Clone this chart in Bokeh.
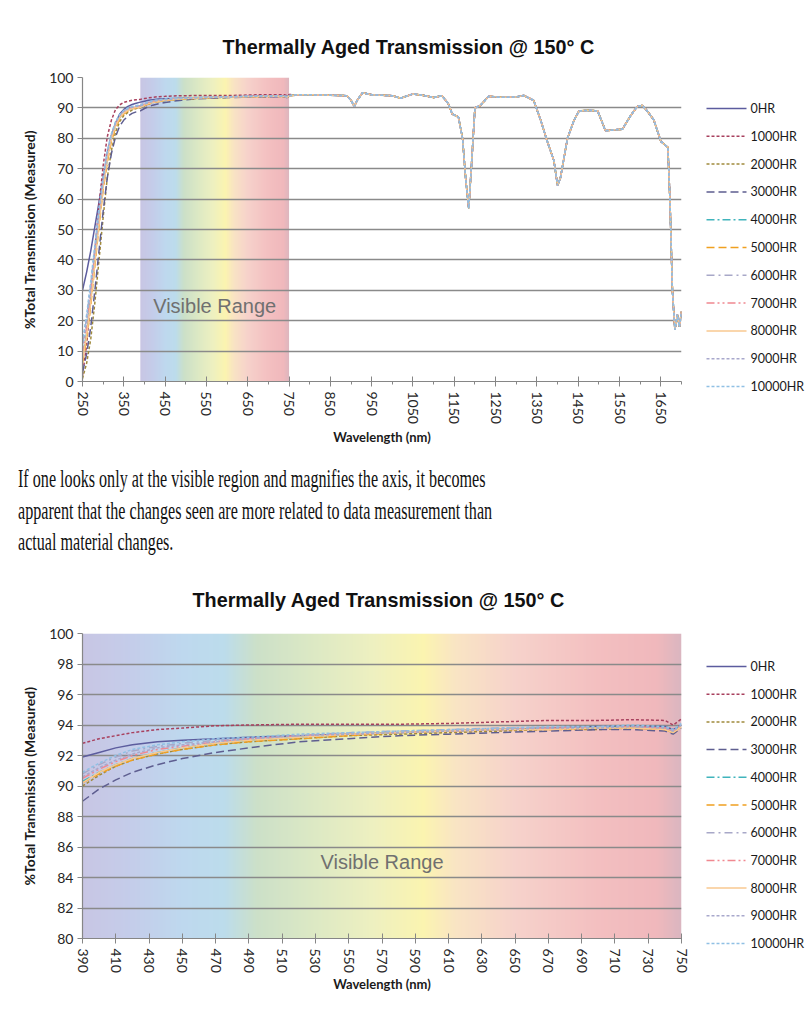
import math
import numpy as np
from bokeh.plotting import figure
from bokeh.models import Label, FixedTicker, Div, Range1d
from bokeh.core.properties import value
from bokeh.layouts import column, row
from bokeh.embed import file_html
from bokeh.resources import INLINE

# ---------------- data ----------------
series_names = ["0HR", "1000HR", "2000HR", "3000HR", "4000HR", "5000HR",
                "6000HR", "7000HR", "8000HR", "9000HR", "10000HR"]
series_colors = ["#5c5c9e", "#a8405e", "#a08a3c", "#5e5e90", "#40b4bc", "#f0a020",
                 "#a8a8c8", "#f08890", "#f8c890", "#a8a8cc", "#90c0e4"]
series_dashes = ["solid", "3 2", "3 2", "8 4", "8 3 2 3", "8 4",
                 "8 4 2 4", "8 3 2 3 2 3", "solid", "3 2", "3 2"]

# UV rise region (top chart only), nm
rise_wl = [250, 260, 270, 280, 290, 300, 310, 320, 330, 340, 350, 360, 370, 380]
rise_0HR = [30, 36, 43, 51, 59, 67, 75, 81, 85, 88, 89.5, 90.5, 91.1, 91.5]
rise_1000HR = [2, 12, 27, 43, 58, 71, 80.5, 86, 89.5, 91, 91.8, 92.2, 92.5, 92.7]
rise_2000HR = [1, 6, 14, 26, 40, 54, 67, 76, 82, 85.5, 87.5, 88.5, 89.3, 89.8]
rise_3000HR = [3, 9, 18, 30, 43, 56, 67, 75, 80.5, 84, 86, 87.3, 88.2, 88.7]
rise_4000HR = [8, 16, 27, 40, 53, 64, 73, 80, 84, 86.8, 88.3, 89.2, 89.8, 90.1]
rise_5000HR = [6, 14, 25, 38, 51, 63, 72, 79, 83.5, 86.3, 88, 89, 89.6, 90]
rise_6000HR = [12, 21, 32, 44, 56, 66, 75, 81, 85, 87.5, 89, 89.8, 90.3, 90.6]
rise_7000HR = [9, 18, 29, 42, 54, 65, 74, 80.5, 84.5, 87, 88.5, 89.5, 90, 90.3]
rise_8000HR = [7, 15, 26, 39, 52, 64, 73, 80, 84, 86.8, 88.3, 89.2, 89.8, 90.1]
rise_9000HR = [11, 20, 31, 43, 55, 66, 75, 81, 85, 87.5, 89, 89.7, 90.2, 90.5]
rise_10000HR = [13, 22, 33, 45, 57, 67, 76, 81.5, 85.5, 87.8, 89.2, 90, 90.5, 90.8]

# visible region (both charts), nm
vis_wl = [390, 400, 410, 420, 435, 450, 470, 490, 520, 550, 580, 610, 640, 670, 700, 720, 740, 745, 750]
vis_0HR = [91.9, 92.2, 92.5, 92.7, 92.9, 93.0, 93.1, 93.2, 93.3, 93.4, 93.5, 93.6, 93.7, 93.8, 93.9, 93.9, 93.9, 93.7, 94.0]
vis_1000HR = [92.8, 93.1, 93.3, 93.5, 93.7, 93.8, 93.95, 94.0, 94.05, 94.05, 94.05, 94.1, 94.2, 94.3, 94.3, 94.35, 94.3, 94.0, 94.4]
vis_2000HR = [90.0, 90.7, 91.3, 91.7, 92.1, 92.4, 92.7, 92.9, 93.1, 93.3, 93.4, 93.5, 93.6, 93.7, 93.7, 93.8, 93.7, 93.5, 93.9]
vis_3000HR = [89.0, 89.8, 90.4, 90.9, 91.4, 91.8, 92.2, 92.5, 92.9, 93.1, 93.3, 93.4, 93.5, 93.6, 93.7, 93.7, 93.6, 93.4, 93.8]
vis_4000HR = [90.3, 90.9, 91.4, 91.8, 92.2, 92.5, 92.8, 93.0, 93.2, 93.4, 93.5, 93.6, 93.7, 93.8, 93.8, 93.9, 93.8, 93.6, 94.0]
vis_5000HR = [90.2, 90.8, 91.3, 91.7, 92.1, 92.4, 92.7, 92.9, 93.1, 93.3, 93.5, 93.6, 93.7, 93.7, 93.8, 93.8, 93.7, 93.5, 93.9]
vis_6000HR = [90.8, 91.4, 91.9, 92.3, 92.6, 92.8, 93.0, 93.1, 93.3, 93.5, 93.6, 93.7, 93.8, 93.8, 93.9, 93.9, 93.8, 93.6, 94.0]
vis_7000HR = [90.5, 91.1, 91.6, 92.0, 92.4, 92.6, 92.9, 93.1, 93.3, 93.4, 93.5, 93.6, 93.7, 93.8, 93.8, 93.9, 93.8, 93.6, 94.0]
vis_8000HR = [90.2, 90.9, 91.4, 91.8, 92.2, 92.5, 92.8, 93.0, 93.2, 93.4, 93.5, 93.6, 93.7, 93.7, 93.8, 93.8, 93.7, 93.5, 93.9]
vis_9000HR = [90.6, 91.2, 91.7, 92.1, 92.5, 92.7, 92.9, 93.1, 93.3, 93.4, 93.5, 93.6, 93.7, 93.8, 93.8, 93.9, 93.8, 93.6, 94.0]
vis_10000HR = [90.9, 91.5, 92.0, 92.4, 92.7, 92.9, 93.1, 93.2, 93.4, 93.5, 93.6, 93.7, 93.8, 93.9, 93.9, 94.0, 93.9, 93.7, 94.1]

# near-infrared region (top chart, all series overlap), nm
nir_wl = [770, 800, 850, 890, 900, 908, 915, 928, 950, 1000, 1020, 1050, 1080, 1100, 1120, 1135,
          1145, 1160, 1170, 1178, 1185, 1192, 1200, 1213, 1233, 1260, 1300, 1318, 1342, 1359,
          1375, 1391, 1400, 1407, 1424, 1440, 1452, 1475, 1497, 1516, 1540, 1557, 1577, 1593,
          1605, 1617, 1633, 1650, 1667, 1672, 1678, 1684, 1690, 1695, 1700]
nir_common = [94.3, 94.3, 94.2, 94.0, 92.5, 90.5, 92.5, 95.0, 94.3, 94.0, 93.2, 94.6, 94.0, 93.4, 94.0, 91.5,
              88.0, 87.0, 80.0, 66.0, 57.0, 72.0, 90.0, 90.8, 93.8, 93.5, 93.6, 94.1, 92.5, 86.0,
              79.0, 72.7, 64.5, 67.0, 80.0, 86.0, 89.0, 89.2, 89.0, 82.5, 82.8, 83.0, 87.5, 90.5,
              90.8, 89.0, 86.0, 79.0, 77.0, 60.0, 30.0, 17.0, 22.0, 18.0, 23.0]

rise_all = [rise_0HR, rise_1000HR, rise_2000HR, rise_3000HR, rise_4000HR, rise_5000HR,
            rise_6000HR, rise_7000HR, rise_8000HR, rise_9000HR, rise_10000HR]
vis_all = [vis_0HR, vis_1000HR, vis_2000HR, vis_3000HR, vis_4000HR, vis_5000HR,
           vis_6000HR, vis_7000HR, vis_8000HR, vis_9000HR, vis_10000HR]

# visible-spectrum band
visible_start, visible_end = 390, 750
spectrum_nm = [390, 420, 450, 475, 495, 530, 565, 595, 615, 650, 700, 735, 750]
spectrum_hex = ["#c8c6e4", "#c4cdea", "#bed8ee", "#bcdcec", "#cce0c8", "#dde9c4", "#eef0c0",
                "#fbf4b0", "#f9e4c4", "#f6d2cb", "#f3bfc0", "#f0b8bc", "#dab6c0"]

top_x_ticks = [250, 350, 450, 550, 650, 750, 850, 950, 1050, 1150, 1250, 1350, 1450, 1550, 1650]
top_x_minor = [300, 400, 500, 600, 700, 800, 900, 1000, 1100, 1200, 1300, 1400, 1500, 1600, 1700]
top_y_ticks = [0, 10, 20, 30, 40, 50, 60, 70, 80, 90, 100]
bot_x_ticks = [390, 410, 430, 450, 470, 490, 510, 530, 550, 570, 590, 610, 630, 650, 670, 690, 710, 730, 750]
bot_y_ticks = [80, 82, 84, 86, 88, 90, 92, 94, 96, 98, 100]

title_text = "Thermally Aged Transmission @ 150° C"
paragraph_lines = ["If one looks only at the visible region and magnifies the axis, it becomes",
                   "apparent that the changes seen are more related to data measurement than",
                   "actual material changes."]

TICK_FONT = "Lato"
FRAME_LEFT, FRAME_W, MAIN_RIGHT = 82, 599, 12
MAIN_W = FRAME_LEFT + FRAME_W + MAIN_RIGHT
LEG_W = 807 - MAIN_W


def band_image():
    rgb = np.array([[int(h[i:i + 2], 16) for i in (1, 3, 5)] for h in spectrum_hex], float)
    mids = np.arange(visible_start, visible_end, 1.0) + 0.5
    n = len(mids)
    img = np.zeros((1, n), dtype=np.uint32)
    view = img.view(dtype=np.uint8).reshape((1, n, 4))
    for c in range(3):
        view[0, :, c] = np.round(np.interp(mids, spectrum_nm, rgb[:, c])).astype(np.uint8)
    view[0, :, 3] = 255
    return img


def style(p, xt, xminor, yt, title_offset, title_standoff, xlabel_standoff):
    p.outline_line_color = None
    p.background_fill_color = "white"
    p.border_fill_color = "white"
    p.xgrid.visible = False
    p.ygrid.grid_line_color = "#8a8a8a"
    p.ygrid.grid_line_width = 1.6
    p.ygrid.ticker = FixedTicker(ticks=yt)
    p.xaxis.ticker = FixedTicker(ticks=xt, minor_ticks=xminor)
    p.yaxis.ticker = FixedTicker(ticks=yt)
    for ax in (p.xaxis[0], p.yaxis[0]):
        ax.axis_line_color = "#868686"
        ax.axis_line_width = 1.2
        ax.major_tick_line_color = "#868686"
        ax.minor_tick_line_color = "#868686"
        ax.major_label_text_font = TICK_FONT
        ax.major_label_text_font_size = "14px"
        ax.major_label_text_color = "#262626"
        ax.axis_label_text_font = TICK_FONT
        ax.axis_label_text_font_style = "bold"
        ax.axis_label_text_color = "#1a1a1a"
    p.xaxis.major_tick_in = 5
    p.xaxis.major_tick_out = 5
    p.xaxis.minor_tick_in = 0
    p.xaxis.minor_tick_out = 3
    p.xaxis.major_label_orientation = -math.pi / 2
    p.xaxis.major_label_standoff = 5
    p.xaxis.axis_label = "Wavelength (nm)"
    p.xaxis.axis_label_text_font_size = "13px"
    p.xaxis.axis_label_standoff = xlabel_standoff
    p.yaxis.major_tick_in = 0
    p.yaxis.major_tick_out = 5
    p.yaxis.minor_tick_out = 0
    p.yaxis.major_label_standoff = 4
    p.yaxis.axis_label = "%Total Transmission (Measured)"
    p.yaxis.axis_label_text_font_size = "14px"
    p.yaxis.axis_label_standoff = 8
    p.title.text_font = "Liberation Sans"
    p.title.text_font_size = "19.8px"
    p.title.text_font_style = "bold"
    p.title.text_color = "#111111"
    p.title.align = "left"
    p.title.offset = title_offset
    p.title.standoff = title_standoff


def legend_figure(height, first_center, pitch):
    # side legend drawn in its own pixel-scaled panel (y grows downward)
    lf = figure(width=LEG_W, height=height, x_range=Range1d(0, LEG_W), y_range=Range1d(height, 0),
                x_axis_type=None, y_axis_type=None, output_backend="svg", toolbar_location=None,
                min_border=0, outline_line_color=None)
    lf.frame_align = False
    lf.grid.visible = False
    gx0 = 706 - MAIN_W
    gx1 = gx0 + 40
    tx = gx1 + 4
    for k, name in enumerate(series_names):
        yk = first_center + k * pitch
        lf.line([gx0, gx1], [yk, yk], line_color=series_colors[k], line_dash=series_dashes[k], line_width=1.5)
        lf.text(x=[tx], y=[yk], text=[name], text_font=value(TICK_FONT), text_font_size="12.5px",
                text_color="#1a1a1a", text_baseline="middle", text_align="left")
    return lf


img = band_image()

# ---------------- top chart ----------------
H1 = 458
p1 = figure(width=MAIN_W, height=H1, x_range=Range1d(250, 1700), y_range=Range1d(0, 100),
            output_backend="svg", toolbar_location=None, title=title_text,
            min_border_left=FRAME_LEFT, min_border_right=MAIN_RIGHT, min_border_top=77, min_border_bottom=77)
style(p1, top_x_ticks, top_x_minor, top_y_ticks, 140, 39, 2)
p1.image_rgba(image=[img], x=visible_start, y=p1.y_range.start,
              dw=visible_end - visible_start, dh=p1.y_range.end - p1.y_range.start, level="image")
for k in range(len(series_names)):
    xs = rise_wl + vis_wl + nir_wl
    ys = rise_all[k] + vis_all[k] + nir_common
    p1.line(xs, ys, line_color=series_colors[k], line_dash=series_dashes[k], line_width=1.5)
p1.add_layout(Label(x=570, y=25, text="Visible Range", text_align="center", text_baseline="middle",
                    text_font="Liberation Sans", text_font_size="20px", text_color="#707070"))
leg1 = legend_figure(H1, 108, 27.8)

# ---------------- paragraph ----------------
para_html = ("<div style=\"font-family:'Liberation Serif','Times New Roman',serif;font-size:25px;"
             "line-height:31.5px;color:#111;white-space:nowrap;transform:scaleX(0.645);"
             "transform-origin:0 0;margin-left:13px;\">" + "<br>".join(paragraph_lines) + "</div>")
div = Div(text=para_html, width=797, height=88)

# ---------------- bottom chart ----------------
H2 = 452
p2 = figure(width=MAIN_W, height=H2, x_range=Range1d(390, 750), y_range=Range1d(80, 100),
            output_backend="svg", toolbar_location=None, title=title_text,
            min_border_left=FRAME_LEFT, min_border_right=MAIN_RIGHT, min_border_top=77, min_border_bottom=70)
style(p2, bot_x_ticks, [], bot_y_ticks, 110, 45, 0)
p2.image_rgba(image=[img], x=visible_start, y=p2.y_range.start,
              dw=visible_end - visible_start, dh=p2.y_range.end - p2.y_range.start, level="image")
for k in range(len(series_names)):
    p2.line(vis_wl, vis_all[k], line_color=series_colors[k], line_dash=series_dashes[k], line_width=1.5)
p2.add_layout(Label(x=570, y=85, text="Visible Range", text_align="center", text_baseline="middle",
                    text_font="Liberation Sans", text_font_size="20px", text_color="#707070"))
leg2 = legend_figure(H2, 666 - 556, 27.7)

layout = column(row(p1, leg1, spacing=0), div, row(p2, leg2, spacing=0), spacing=0)
open("out.html", "w").write(file_html(layout, INLINE))
